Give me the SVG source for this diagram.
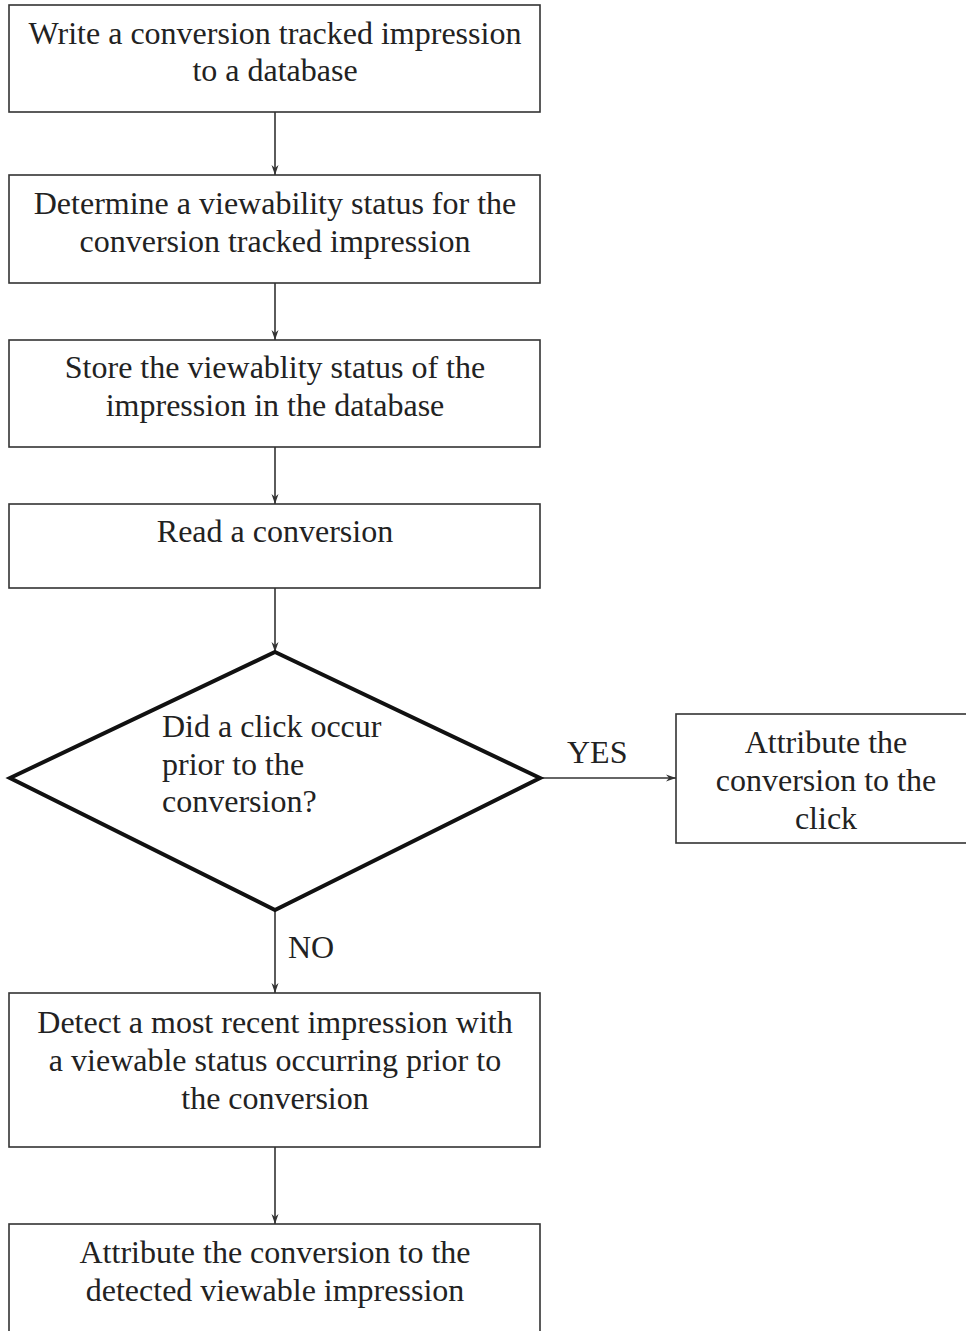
<svg xmlns="http://www.w3.org/2000/svg" width="966" height="1331" viewBox="0 0 966 1331">
<defs>
<marker id="arr" viewBox="0 0 10 10" refX="10" refY="5" markerWidth="10" markerHeight="10" markerUnits="userSpaceOnUse" orient="auto">
<path d="M0,1.5 L10,5 L0,8.5 L3,5 Z" fill="#333"/>
</marker>
</defs>
<style>
.box{fill:#fff;stroke:#333;stroke-width:1.6}
.dia{fill:#fff;stroke:#111;stroke-width:4;stroke-linejoin:miter}
.t{font-family:"Liberation Serif","Times New Roman",serif;font-size:32px;fill:#222;text-anchor:middle}
.l{text-anchor:start}
.c{stroke:#333;stroke-width:1.6;fill:none;marker-end:url(#arr)}
</style>
<rect width="966" height="1331" fill="#fff"/>
<g id="connectors">
<line class="c" x1="275" y1="112" x2="275" y2="175"/>
<line class="c" x1="275" y1="283" x2="275" y2="340"/>
<line class="c" x1="275" y1="447" x2="275" y2="504"/>
<line class="c" x1="275" y1="588" x2="275" y2="652"/>
<line class="c" x1="540" y1="778" x2="676" y2="778"/>
<line class="c" x1="275" y1="910" x2="275" y2="993"/>
<line class="c" x1="275" y1="1147" x2="275" y2="1224"/>
<text class="t l" x="567" y="763">YES</text>
<text class="t l" x="288" y="958">NO</text>
</g>
<g id="n1">
<rect class="box" x="9" y="5" width="531" height="107"/>
<text class="t" x="275" y="44">Write a conversion tracked impression</text>
<text class="t" x="275" y="81">to a database</text>
</g>
<g id="n2">
<rect class="box" x="9" y="175" width="531" height="108"/>
<text class="t" x="275" y="214">Determine a viewability status for the</text>
<text class="t" x="275" y="252">conversion tracked impression</text>
</g>
<g id="n3">
<rect class="box" x="9" y="340" width="531" height="107"/>
<text class="t" x="275" y="378">Store the viewablity status of the</text>
<text class="t" x="275" y="416">impression in the database</text>
</g>
<g id="n4">
<rect class="box" x="9" y="504" width="531" height="84"/>
<text class="t" x="275" y="542">Read a conversion</text>
</g>
<g id="n5">
<polygon class="dia" points="275,652 540,778 275,910 10,778"/>
<text class="t l" x="162" y="737">Did a click occur</text>
<text class="t l" x="162" y="775">prior to the</text>
<text class="t l" x="162" y="812">conversion?</text>
</g>
<g id="n6">
<rect class="box" x="676" y="714" width="296" height="129"/>
<text class="t" x="826" y="753">Attribute the</text>
<text class="t" x="826" y="791">conversion to the</text>
<text class="t" x="826" y="829">click</text>
</g>
<g id="n7">
<rect class="box" x="9" y="993" width="531" height="154"/>
<text class="t" x="275" y="1033">Detect a most recent impression with</text>
<text class="t" x="275" y="1071">a viewable status occurring prior to</text>
<text class="t" x="275" y="1109">the conversion</text>
</g>
<g id="n8">
<rect class="box" x="9" y="1224" width="531" height="130"/>
<text class="t" x="275" y="1263">Attribute the conversion to the</text>
<text class="t" x="275" y="1301">detected viewable impression</text>
</g>
</svg>
